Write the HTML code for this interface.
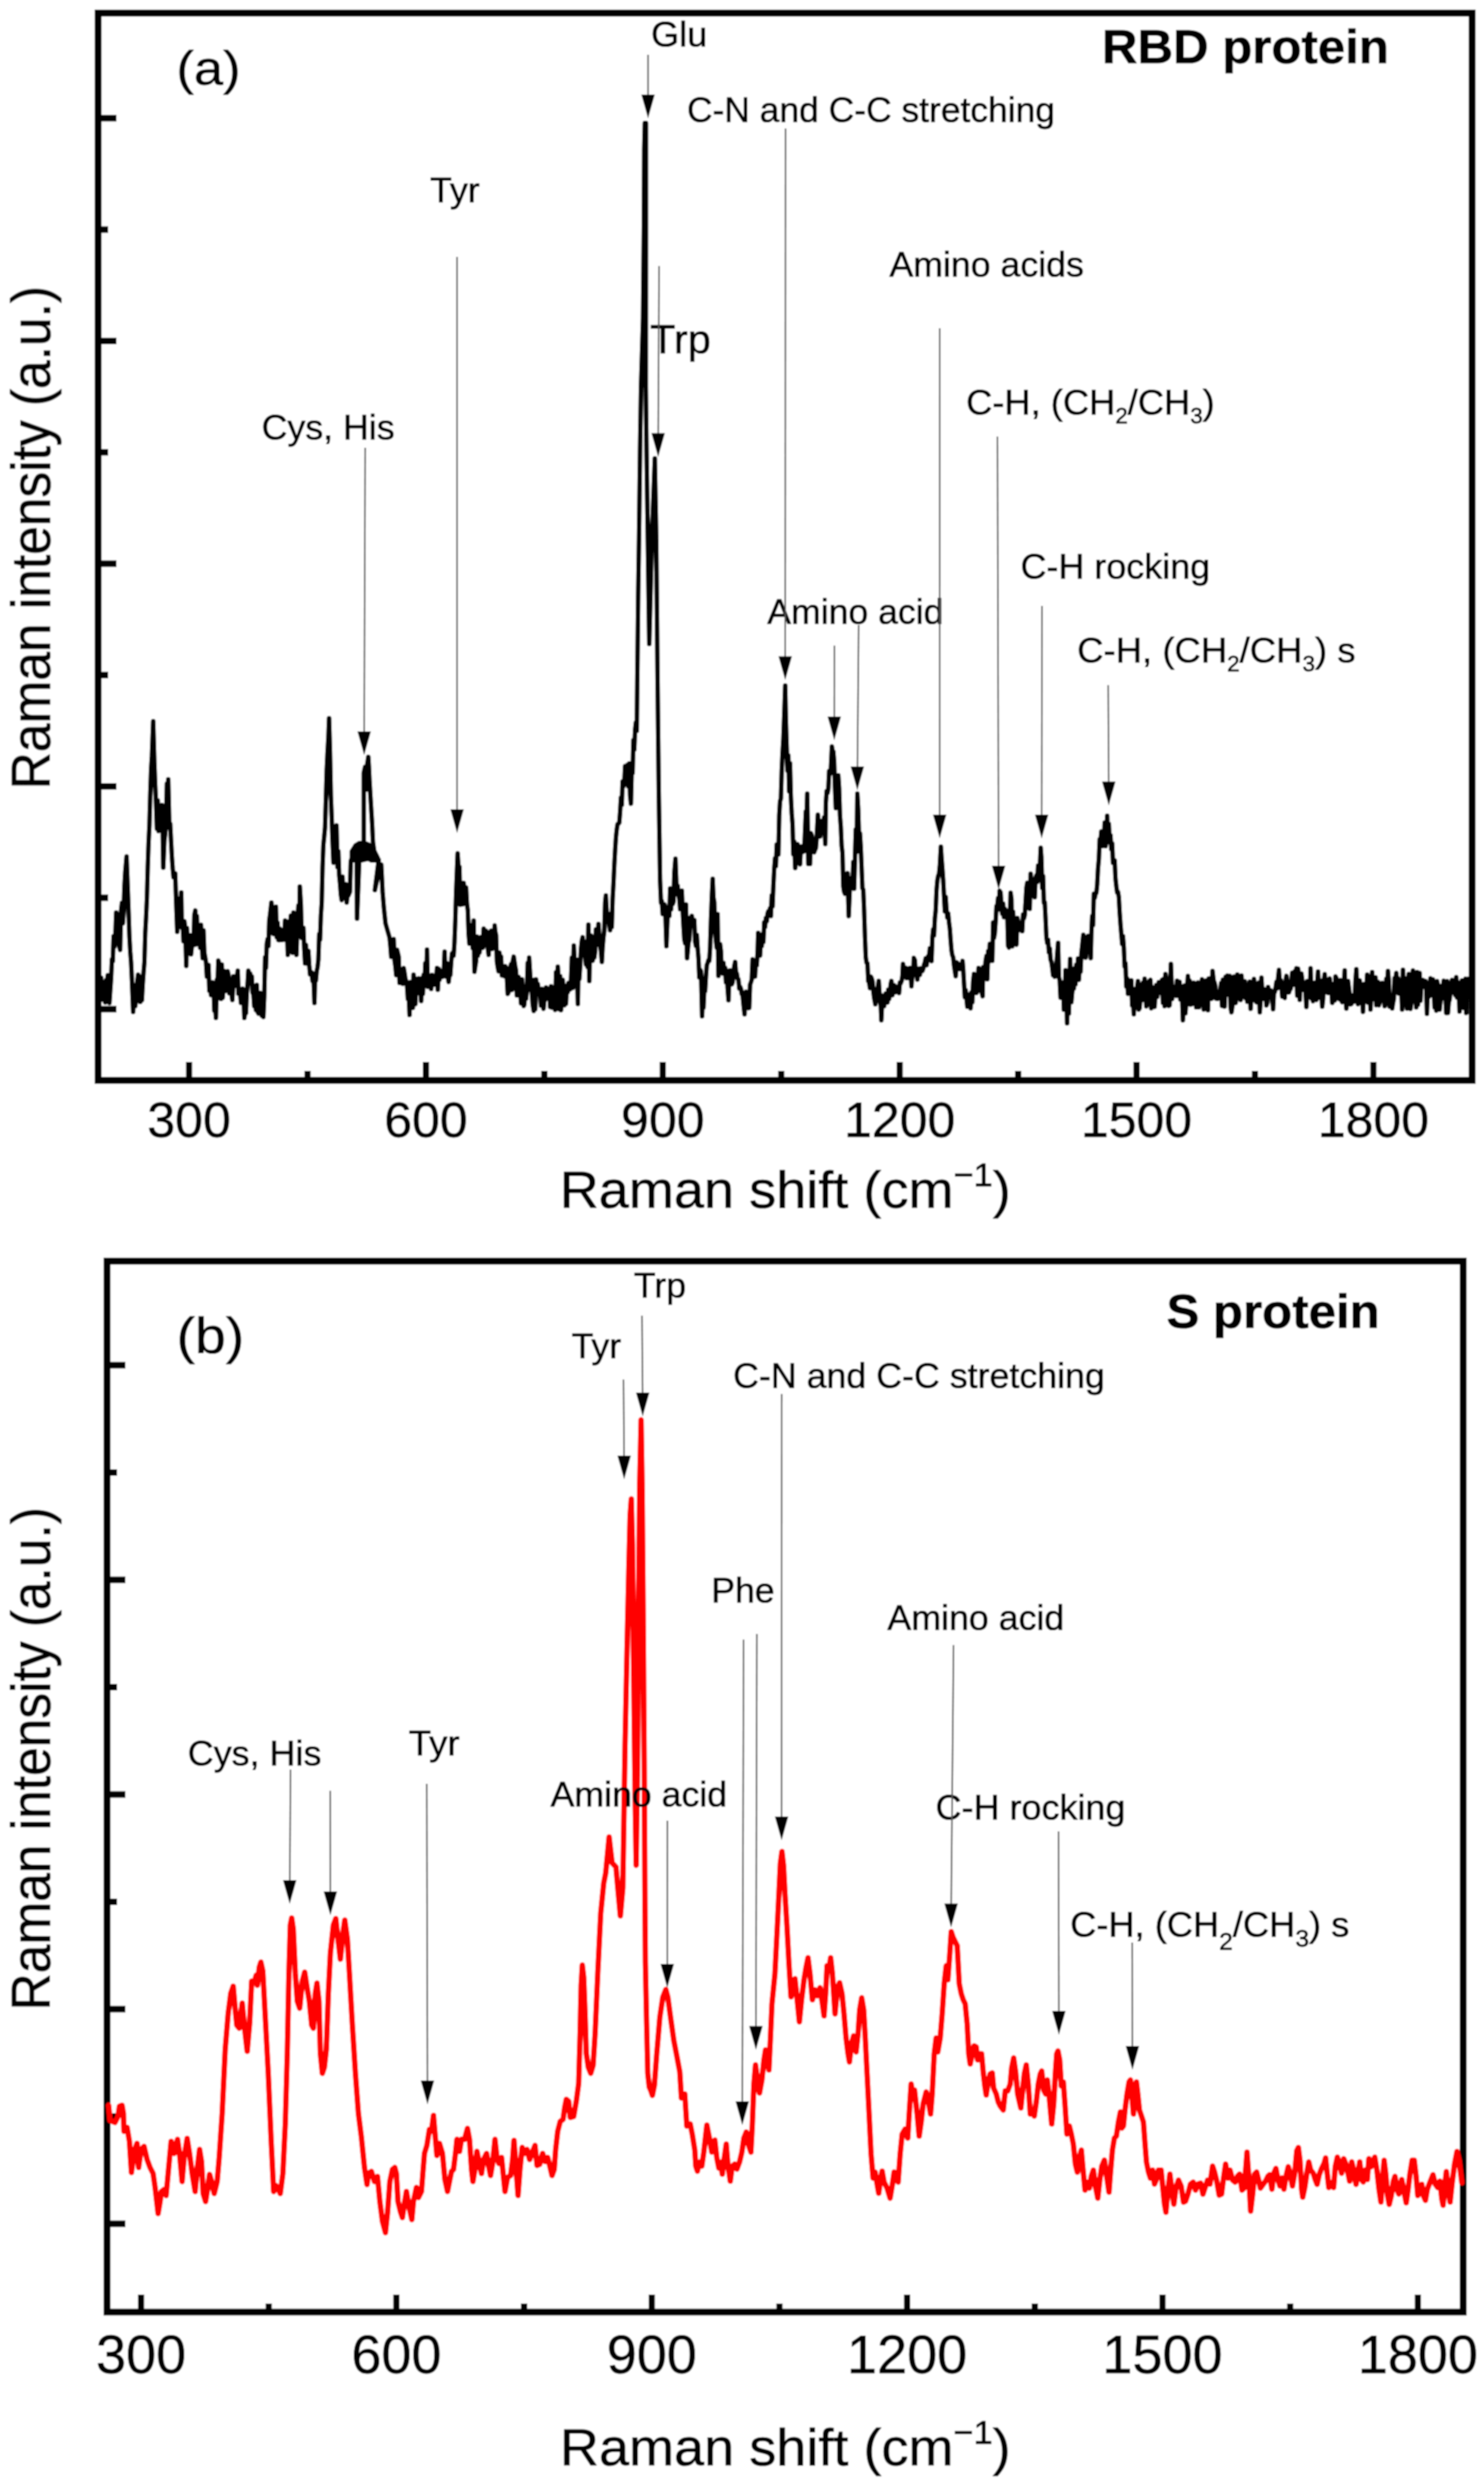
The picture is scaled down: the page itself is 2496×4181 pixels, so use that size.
<!DOCTYPE html>
<html><head><meta charset="utf-8"><title>Raman spectra</title>
<style>html,body{margin:0;padding:0;background:#fff}svg{display:block}text{stroke:#000;stroke-width:1.1px;stroke-linejoin:round}</style></head>
<body>
<svg width="2496" height="4181" viewBox="0 0 2496 4181" font-family='"Liberation Sans", Arial, Helvetica, sans-serif' fill="#000">
<rect width="2496" height="4181" fill="#fff"/>
<defs><filter id="sa" x="0" y="0" width="2496" height="2090" filterUnits="userSpaceOnUse"><feGaussianBlur stdDeviation="1.05"/></filter><filter id="sb" x="0" y="2090" width="2496" height="2091" filterUnits="userSpaceOnUse"><feGaussianBlur stdDeviation="1.05"/></filter></defs>
<g filter="url(#sa)"><rect x="0" y="0" width="2496" height="2090" fill="#fff"/>
<path d="M170.1 1644.4 L171.5 1681.2 L172.9 1652.2 L174.3 1651.8 L175.7 1663.4 L177.1 1685.8 L178.5 1648.4 L179.9 1651.2 L181.3 1640.2 L182.7 1664.6 L184.1 1686.7 L185.5 1665.7 L186.9 1645.3 L188.3 1613.6 L189.7 1616.9 L191.1 1574.6 L192.5 1592.2 L193.9 1578.0 L195.4 1534.7 L196.7 1540.6 L198.1 1575.6 L199.5 1547.7 L200.9 1592.6 L202.1 1597.5 L203.7 1531.0 L205.1 1518.4 L206.5 1552.8 L207.9 1532.0 L209.3 1489.6 L210.7 1465.8 L212.9 1440.4 L214.9 1494.5 L216.3 1533.4 L217.7 1575.1 L219.1 1600.8 L220.5 1618.7 L221.9 1649.3 L224.0 1701.9 L226.1 1657.8 L227.5 1691.9 L228.9 1670.6 L230.3 1655.2 L232.4 1639.2 L234.5 1643.4 L235.9 1685.0 L237.3 1650.9 L238.7 1682.1 L240.1 1655.4 L241.5 1635.1 L242.9 1618.5 L244.3 1569.0 L245.7 1542.9 L247.1 1510.9 L248.5 1458.1 L249.9 1417.2 L251.3 1388.3 L252.7 1336.0 L254.1 1293.6 L255.5 1271.5 L257.7 1213.0 L259.7 1283.2 L261.1 1320.7 L262.5 1350.8 L263.9 1393.5 L265.3 1346.2 L266.7 1397.6 L268.1 1367.9 L269.5 1391.5 L270.9 1385.6 L272.3 1354.0 L273.7 1400.5 L274.6 1459.3 L276.5 1413.4 L277.9 1402.1 L279.3 1381.1 L280.7 1318.0 L282.1 1344.7 L283.0 1310.7 L284.9 1391.8 L286.3 1385.5 L287.7 1413.5 L289.1 1440.6 L290.5 1460.6 L291.9 1475.3 L293.3 1472.9 L294.7 1468.7 L296.1 1512.6 L298.1 1567.2 L300.3 1516.2 L301.7 1511.4 L303.1 1546.8 L304.9 1501.0 L305.9 1560.3 L307.3 1551.3 L308.7 1583.0 L310.1 1549.6 L311.5 1561.3 L313.3 1624.4 L314.3 1560.7 L315.7 1589.0 L317.1 1595.7 L318.5 1586.2 L319.9 1572.9 L321.3 1605.0 L322.7 1591.8 L324.1 1583.5 L325.5 1589.7 L326.9 1538.3 L328.5 1531.4 L329.7 1588.5 L331.1 1540.8 L332.5 1581.5 L333.9 1585.7 L335.3 1567.3 L336.7 1594.1 L338.1 1555.5 L339.5 1586.1 L340.9 1611.6 L342.3 1564.8 L343.7 1602.0 L345.1 1609.8 L346.5 1618.3 L347.9 1642.4 L349.3 1641.9 L350.7 1622.9 L352.1 1666.2 L353.5 1657.3 L354.9 1673.5 L356.3 1660.2 L357.7 1652.2 L359.1 1657.6 L360.5 1699.7 L361.9 1692.3 L363.2 1712.0 L364.7 1647.8 L366.1 1651.6 L367.2 1615.6 L368.9 1621.5 L370.3 1652.1 L371.7 1680.1 L373.1 1622.3 L374.5 1678.0 L375.9 1657.6 L377.3 1633.2 L378.7 1666.9 L380.1 1634.0 L381.5 1651.7 L382.9 1633.5 L384.3 1639.5 L385.7 1670.5 L387.1 1659.3 L388.5 1662.2 L389.9 1674.7 L390.8 1681.7 L392.7 1642.0 L394.1 1658.8 L395.5 1651.6 L396.9 1653.0 L398.3 1645.7 L399.9 1632.4 L401.1 1671.1 L402.5 1669.2 L403.9 1670.4 L405.3 1686.6 L406.7 1680.4 L408.1 1662.8 L409.5 1671.0 L411.0 1712.0 L412.3 1702.1 L413.7 1704.0 L415.1 1669.8 L416.5 1653.4 L417.7 1632.4 L419.3 1640.1 L420.7 1637.1 L422.1 1648.3 L423.5 1642.1 L424.9 1669.7 L426.3 1672.1 L427.7 1692.3 L429.1 1681.0 L430.5 1698.6 L431.9 1656.4 L433.3 1702.0 L434.7 1704.5 L436.1 1685.6 L437.5 1670.1 L438.9 1696.9 L440.3 1707.9 L441.7 1680.1 L443.0 1710.4 L444.5 1675.9 L445.9 1609.9 L447.3 1627.8 L448.7 1587.2 L450.1 1579.4 L451.5 1591.2 L452.9 1547.5 L454.3 1537.5 L456.5 1517.9 L458.5 1551.2 L459.9 1570.7 L461.3 1570.7 L462.7 1542.4 L464.1 1525.0 L465.5 1576.2 L466.9 1551.9 L468.3 1581.0 L469.7 1581.2 L471.1 1562.2 L472.5 1568.5 L473.9 1581.0 L475.3 1573.5 L476.7 1572.6 L478.1 1580.4 L479.5 1548.3 L480.9 1569.8 L482.3 1550.0 L484.1 1605.9 L485.1 1580.7 L486.5 1552.0 L487.9 1555.7 L489.3 1540.0 L490.7 1543.2 L492.1 1602.3 L493.6 1534.7 L494.9 1544.9 L496.3 1538.2 L497.7 1563.2 L498.6 1605.9 L500.5 1545.0 L501.9 1523.1 L503.3 1565.7 L504.3 1490.9 L506.1 1521.3 L507.5 1577.5 L508.9 1577.7 L510.3 1560.4 L511.7 1595.6 L513.1 1620.2 L514.5 1589.3 L515.9 1620.4 L517.3 1611.5 L518.7 1599.3 L520.1 1622.8 L521.5 1638.7 L522.9 1637.0 L524.3 1635.6 L525.7 1649.9 L527.1 1637.5 L528.9 1686.8 L529.9 1646.3 L531.3 1649.3 L532.7 1633.5 L534.1 1626.8 L535.5 1614.1 L536.9 1570.9 L538.3 1580.3 L539.7 1539.7 L541.1 1519.0 L542.5 1458.5 L543.9 1421.2 L545.3 1407.0 L546.7 1391.7 L548.1 1344.0 L549.5 1294.3 L550.9 1265.3 L552.3 1240.8 L553.5 1207.9 L555.1 1265.0 L556.5 1337.6 L557.9 1373.7 L559.3 1414.4 L560.9 1450.9 L562.1 1390.9 L563.5 1396.9 L564.9 1397.1 L566.0 1388.2 L567.7 1458.5 L569.1 1431.7 L570.5 1472.0 L571.9 1485.8 L573.3 1504.7 L574.7 1513.7 L576.1 1474.6 L577.5 1509.4 L578.9 1488.5 L580.3 1506.4 L581.7 1487.3 L583.1 1517.9 L584.5 1503.4 L585.9 1506.2 L588.5 1500.0 L590.0 1448.0 L595.0 1436.0 L600.0 1434.0 L600.5 1545.0 L603.0 1480.0 L604.5 1438.0 L609.0 1432.0 L611.8 1415.0 L611.8 1300.0 L614.0 1290.0 L616.0 1328.0 L617.5 1286.0 L619.5 1273.0 L620.5 1290.0 L621.5 1312.0 L623.0 1338.0 L625.9 1385.0 L627.3 1416.0 L630.0 1436.0 L637.0 1446.0 L630.5 1497.0 L638.5 1460.0 L641.3 1454.0 L643.5 1500.0 L645.5 1525.0 L648.4 1553.0 L655.2 1576.8 L656.6 1590.8 L658.0 1609.2 L659.4 1604.4 L660.8 1600.8 L662.2 1579.5 L663.6 1615.5 L665.0 1625.1 L666.4 1640.0 L667.8 1597.5 L669.2 1603.2 L670.6 1609.2 L672.0 1652.9 L673.4 1645.6 L674.8 1642.9 L676.2 1654.2 L677.6 1654.5 L679.0 1628.2 L680.4 1636.1 L681.8 1645.6 L683.2 1650.4 L684.6 1657.8 L686.0 1680.1 L687.4 1670.5 L688.9 1707.0 L690.2 1651.8 L691.6 1669.6 L693.0 1681.6 L694.4 1695.0 L695.6 1639.2 L697.2 1665.3 L698.6 1688.7 L700.0 1646.2 L701.4 1654.9 L702.8 1670.3 L704.2 1645.5 L705.6 1657.5 L707.0 1662.1 L708.4 1683.5 L709.8 1645.0 L711.2 1671.7 L712.6 1639.6 L714.0 1654.7 L715.4 1619.9 L716.8 1657.4 L718.2 1597.1 L719.6 1659.6 L721.0 1651.1 L722.4 1649.2 L723.8 1645.6 L725.2 1663.2 L726.6 1639.7 L728.0 1656.7 L729.4 1651.3 L730.8 1644.2 L732.2 1655.8 L733.6 1647.1 L735.0 1627.9 L736.4 1664.6 L737.8 1629.4 L739.2 1647.9 L740.6 1632.5 L742.0 1634.9 L743.4 1635.7 L744.8 1642.7 L746.2 1640.8 L747.8 1600.4 L749.0 1637.9 L750.4 1642.3 L751.8 1619.9 L753.2 1642.4 L754.6 1651.4 L756.0 1638.5 L757.4 1639.9 L758.8 1619.4 L760.2 1603.7 L761.6 1602.1 L763.0 1607.3 L764.4 1585.3 L765.8 1547.6 L767.2 1498.3 L768.6 1463.2 L769.7 1435.3 L771.4 1461.5 L772.8 1457.6 L774.2 1521.6 L775.6 1518.0 L777.0 1502.5 L778.4 1520.8 L779.8 1484.9 L781.2 1496.6 L782.6 1493.5 L784.0 1492.6 L785.4 1520.4 L786.8 1530.7 L788.2 1571.1 L789.6 1587.1 L791.0 1555.8 L792.4 1559.2 L793.8 1578.8 L795.2 1594.6 L796.7 1548.2 L798.0 1634.3 L799.4 1625.1 L800.8 1616.5 L802.2 1575.2 L803.6 1607.4 L805.0 1596.1 L806.4 1602.3 L807.8 1589.8 L809.2 1575.9 L810.6 1592.8 L812.0 1593.9 L813.5 1561.7 L814.8 1573.0 L816.2 1567.9 L817.6 1565.4 L819.0 1585.9 L820.4 1593.8 L821.9 1605.9 L823.2 1573.5 L824.6 1567.4 L826.0 1565.4 L827.4 1596.1 L828.8 1569.9 L830.2 1593.4 L832.0 1556.6 L833.0 1566.6 L834.4 1572.6 L835.8 1617.3 L837.2 1626.4 L838.6 1633.5 L840.0 1602.2 L841.4 1612.9 L842.8 1608.9 L844.2 1640.5 L845.6 1631.0 L847.0 1631.6 L848.4 1641.8 L849.8 1624.9 L851.2 1627.9 L852.6 1645.9 L853.9 1671.6 L855.4 1668.7 L856.8 1665.5 L858.2 1626.8 L859.6 1621.7 L861.0 1664.8 L862.4 1617.1 L864.1 1608.9 L865.2 1616.7 L866.6 1625.5 L868.0 1632.3 L869.4 1674.0 L870.8 1647.2 L872.2 1643.1 L873.6 1666.3 L875.0 1668.7 L876.4 1687.4 L877.8 1647.0 L879.2 1671.7 L880.9 1691.8 L882.0 1689.4 L883.4 1659.9 L884.8 1679.6 L886.2 1664.9 L887.6 1619.6 L889.0 1631.5 L890.0 1610.5 L891.8 1640.2 L893.2 1664.8 L894.6 1668.5 L896.0 1689.7 L897.7 1700.2 L898.8 1647.8 L900.2 1697.3 L901.6 1647.2 L903.0 1666.6 L904.4 1654.6 L905.8 1663.7 L907.2 1671.6 L908.6 1670.7 L910.0 1691.2 L911.4 1663.3 L912.8 1690.9 L914.2 1696.5 L915.6 1680.4 L917.0 1681.6 L918.4 1660.8 L919.8 1672.9 L921.2 1663.4 L922.6 1665.5 L924.0 1662.8 L925.4 1693.5 L926.8 1658.8 L928.2 1694.6 L929.6 1667.1 L931.0 1670.1 L932.4 1669.5 L933.8 1698.5 L935.2 1635.2 L936.6 1647.6 L938.2 1625.7 L939.4 1646.2 L940.8 1697.3 L942.2 1641.8 L943.6 1698.9 L945.0 1671.8 L946.4 1648.0 L947.8 1673.7 L949.2 1690.6 L950.6 1683.7 L952.0 1688.1 L953.4 1657.5 L954.8 1668.6 L956.2 1653.2 L957.6 1662.4 L959.0 1663.8 L960.4 1648.3 L961.8 1610.7 L963.2 1661.6 L965.1 1590.3 L967.4 1638.5 L968.8 1653.9 L970.2 1614.1 L971.9 1688.5 L973.0 1622.9 L974.4 1646.5 L975.8 1625.2 L977.2 1596.0 L978.6 1582.4 L980.0 1576.3 L981.4 1598.0 L982.8 1583.5 L984.2 1603.6 L985.6 1621.9 L987.0 1621.2 L988.4 1626.4 L989.7 1554.9 L991.2 1650.0 L992.6 1580.4 L994.0 1573.4 L995.4 1614.7 L996.8 1615.5 L998.2 1610.0 L999.6 1610.2 L1001.0 1599.8 L1002.4 1563.0 L1003.8 1589.0 L1005.2 1588.6 L1006.6 1554.1 L1008.0 1576.0 L1009.4 1589.0 L1010.8 1599.4 L1012.3 1617.7 L1013.6 1593.1 L1015.0 1576.8 L1016.4 1565.9 L1017.8 1517.7 L1019.0 1506.1 L1020.6 1535.8 L1022.0 1548.3 L1023.4 1546.2 L1024.8 1553.4 L1026.2 1564.5 L1027.6 1536.5 L1029.0 1559.2 L1030.4 1511.8 L1031.8 1486.7 L1033.2 1455.8 L1034.6 1429.9 L1036.0 1408.0 L1037.4 1394.7 L1038.8 1386.0 L1040.2 1385.4 L1041.6 1383.6 L1043.0 1365.6 L1044.4 1341.6 L1045.8 1353.6 L1047.2 1314.2 L1048.6 1322.5 L1050.0 1316.6 L1051.4 1288.5 L1052.8 1317.6 L1054.2 1318.8 L1055.6 1286.3 L1057.0 1322.9 L1058.4 1283.9 L1059.8 1338.1 L1061.2 1351.5 L1062.6 1294.1 L1064.0 1300.2 L1065.4 1244.7 L1066.8 1260.9 L1068.2 1227.1 L1069.6 1215.0 L1071.0 1229.2 L1071.8 1150.0 L1073.4 1000.0 L1074.8 904.0 L1076.5 759.0 L1078.1 651.0 L1081.6 536.0 L1083.0 380.0 L1083.6 250.0 L1084.6 207.0 L1086.4 207.0 L1086.4 400.0 L1086.2 650.0 L1087.5 760.0 L1089.5 904.0 L1092.0 1083.0 L1096.5 904.0 L1101.4 771.0 L1103.8 904.0 L1106.0 1145.0 L1108.0 1330.0 L1110.2 1480.0 L1111.8 1518.2 L1113.2 1515.4 L1114.6 1537.3 L1116.0 1536.3 L1117.4 1520.9 L1118.8 1525.5 L1120.9 1591.3 L1123.0 1538.7 L1124.4 1530.2 L1125.8 1540.4 L1127.2 1494.3 L1128.6 1529.5 L1130.0 1499.4 L1131.4 1520.5 L1132.8 1516.5 L1134.2 1467.1 L1136.1 1444.3 L1137.0 1468.7 L1138.4 1503.6 L1139.8 1489.7 L1141.2 1506.1 L1142.6 1511.2 L1144.0 1529.1 L1145.4 1514.0 L1146.8 1497.9 L1148.2 1530.1 L1149.6 1557.0 L1151.0 1580.2 L1152.4 1586.5 L1153.8 1521.2 L1155.6 1611.5 L1156.6 1601.2 L1158.0 1585.5 L1159.4 1581.1 L1160.8 1543.4 L1162.2 1550.2 L1163.6 1540.5 L1165.0 1555.8 L1166.4 1551.4 L1167.8 1547.4 L1169.2 1583.8 L1170.6 1590.6 L1172.0 1572.4 L1173.4 1594.7 L1174.8 1611.1 L1176.2 1643.9 L1177.6 1630.9 L1179.0 1633.7 L1180.9 1709.2 L1181.8 1684.6 L1183.2 1694.7 L1184.6 1664.6 L1186.0 1667.1 L1187.4 1642.2 L1188.8 1623.2 L1190.2 1619.6 L1191.6 1614.8 L1193.0 1616.0 L1194.4 1593.3 L1195.8 1545.0 L1197.2 1509.0 L1198.7 1478.0 L1200.0 1509.5 L1201.4 1517.1 L1202.8 1566.1 L1204.2 1582.0 L1205.6 1593.9 L1207.0 1537.4 L1208.4 1641.3 L1209.8 1612.2 L1211.2 1587.9 L1212.6 1599.4 L1214.0 1635.1 L1215.4 1637.1 L1216.8 1619.5 L1218.2 1633.2 L1219.6 1627.6 L1221.0 1652.0 L1222.4 1632.6 L1223.8 1661.9 L1225.3 1682.3 L1226.6 1636.8 L1228.0 1632.1 L1229.4 1632.8 L1230.8 1655.4 L1232.2 1652.0 L1233.6 1635.9 L1235.0 1624.7 L1236.5 1617.8 L1237.8 1634.9 L1239.2 1637.1 L1240.6 1645.9 L1242.0 1646.8 L1243.4 1662.5 L1244.8 1659.7 L1246.2 1662.9 L1247.6 1671.8 L1249.0 1672.2 L1250.4 1688.3 L1252.3 1705.8 L1253.2 1669.7 L1254.6 1668.0 L1256.0 1694.7 L1257.4 1675.7 L1258.8 1695.5 L1260.2 1695.0 L1261.6 1655.9 L1263.0 1652.1 L1264.4 1647.4 L1265.8 1613.4 L1267.2 1622.8 L1268.6 1634.5 L1270.0 1642.4 L1271.4 1616.1 L1272.8 1623.4 L1274.2 1602.1 L1275.2 1569.0 L1277.0 1606.3 L1278.4 1607.1 L1279.8 1578.9 L1281.2 1591.3 L1282.6 1571.1 L1284.0 1584.1 L1285.4 1551.2 L1286.8 1559.1 L1288.2 1543.9 L1289.6 1549.5 L1291.0 1536.3 L1292.4 1532.5 L1293.8 1535.0 L1295.2 1527.6 L1296.6 1540.5 L1298.0 1506.0 L1299.4 1524.4 L1300.8 1489.1 L1302.2 1461.6 L1303.6 1443.4 L1305.0 1456.7 L1306.4 1420.3 L1307.8 1420.1 L1309.2 1437.2 L1310.6 1371.2 L1312.0 1347.7 L1313.4 1343.1 L1314.8 1295.9 L1316.2 1265.7 L1317.6 1242.8 L1319.0 1204.0 L1320.7 1152.9 L1321.8 1208.5 L1323.2 1255.4 L1324.6 1296.1 L1326.0 1270.7 L1327.4 1330.9 L1328.8 1283.7 L1330.2 1339.8 L1331.6 1367.8 L1333.0 1386.0 L1334.4 1436.7 L1335.8 1415.4 L1337.5 1459.9 L1338.6 1439.4 L1340.0 1434.7 L1341.4 1419.8 L1342.8 1423.2 L1344.2 1449.1 L1345.6 1453.7 L1347.0 1425.9 L1348.4 1423.7 L1349.8 1433.1 L1351.2 1426.2 L1352.6 1431.7 L1354.0 1398.1 L1355.4 1364.7 L1356.8 1369.0 L1357.7 1334.8 L1359.6 1453.0 L1361.0 1434.2 L1362.4 1453.1 L1363.8 1401.3 L1365.2 1404.8 L1366.6 1416.2 L1368.0 1432.4 L1369.4 1433.2 L1370.8 1429.3 L1372.2 1426.3 L1373.6 1409.8 L1375.6 1370.2 L1377.8 1397.5 L1379.2 1406.9 L1380.6 1381.9 L1382.0 1380.7 L1383.4 1398.3 L1384.8 1385.1 L1386.2 1374.8 L1388.1 1419.5 L1389.0 1350.8 L1390.4 1330.5 L1391.8 1333.9 L1393.2 1326.8 L1394.6 1296.8 L1396.0 1301.7 L1397.4 1293.7 L1399.2 1255.6 L1400.2 1261.8 L1401.6 1263.7 L1403.0 1280.3 L1404.4 1323.7 L1405.8 1359.2 L1407.2 1320.0 L1408.6 1333.8 L1410.0 1304.1 L1411.4 1325.6 L1412.8 1371.8 L1414.2 1390.1 L1415.6 1422.6 L1417.0 1434.3 L1418.4 1490.7 L1419.8 1499.8 L1421.2 1503.1 L1422.6 1494.9 L1424.0 1473.9 L1425.4 1468.7 L1427.5 1540.7 L1429.6 1489.9 L1431.0 1480.0 L1432.4 1476.3 L1433.8 1491.4 L1435.2 1449.8 L1436.6 1494.6 L1438.0 1443.1 L1439.4 1395.1 L1440.8 1432.7 L1442.0 1334.8 L1443.6 1362.8 L1445.0 1413.6 L1446.4 1401.5 L1447.8 1424.2 L1449.2 1459.2 L1450.6 1494.1 L1452.0 1496.2 L1453.4 1530.6 L1454.8 1575.3 L1456.2 1610.4 L1457.6 1619.3 L1459.0 1620.2 L1460.4 1650.3 L1461.8 1651.6 L1463.2 1661.7 L1464.6 1642.6 L1466.0 1645.0 L1467.4 1650.0 L1468.8 1666.5 L1470.2 1677.9 L1472.3 1689.0 L1474.4 1664.1 L1475.8 1666.0 L1478.0 1649.8 L1480.0 1681.7 L1481.4 1691.5 L1482.4 1715.9 L1484.2 1674.5 L1485.6 1689.6 L1487.0 1692.3 L1488.4 1683.3 L1489.8 1671.0 L1491.2 1674.5 L1492.6 1686.0 L1494.0 1664.4 L1495.4 1680.1 L1496.8 1668.0 L1498.2 1654.5 L1499.3 1649.8 L1501.0 1673.7 L1502.4 1659.1 L1503.8 1656.9 L1505.2 1666.7 L1506.6 1668.6 L1508.0 1659.5 L1509.4 1666.1 L1510.8 1664.2 L1512.2 1670.1 L1513.6 1652.6 L1515.0 1653.4 L1516.4 1649.8 L1517.8 1641.6 L1518.8 1621.2 L1520.6 1632.7 L1522.0 1635.4 L1523.4 1627.7 L1524.8 1644.9 L1526.2 1643.8 L1527.6 1630.7 L1529.0 1645.0 L1530.4 1628.0 L1531.8 1635.0 L1533.0 1658.7 L1534.6 1634.2 L1536.0 1638.7 L1537.0 1611.1 L1538.8 1615.1 L1540.2 1637.2 L1541.6 1639.2 L1543.0 1647.4 L1544.4 1629.3 L1545.8 1639.3 L1547.2 1639.5 L1548.6 1628.6 L1550.0 1631.8 L1551.4 1633.0 L1552.8 1629.4 L1554.2 1622.6 L1555.6 1618.4 L1557.0 1611.9 L1558.4 1623.4 L1559.8 1611.5 L1561.2 1607.8 L1562.6 1609.7 L1564.0 1594.7 L1565.4 1607.2 L1566.8 1616.4 L1568.2 1577.0 L1569.6 1562.9 L1571.0 1573.4 L1572.4 1544.7 L1573.8 1531.2 L1575.2 1496.8 L1576.6 1480.7 L1578.0 1473.0 L1579.4 1469.9 L1580.8 1454.8 L1582.5 1424.1 L1583.6 1441.8 L1585.0 1459.8 L1586.4 1479.3 L1587.8 1506.3 L1589.2 1532.8 L1590.6 1508.6 L1592.0 1529.4 L1593.4 1543.2 L1594.8 1536.2 L1596.2 1551.4 L1597.6 1561.7 L1599.0 1582.1 L1600.4 1598.8 L1601.8 1606.9 L1603.2 1609.7 L1604.6 1623.3 L1606.0 1632.9 L1607.4 1641.7 L1608.8 1618.4 L1610.2 1619.6 L1611.6 1626.8 L1613.0 1621.8 L1614.4 1629.7 L1615.8 1625.6 L1617.2 1627.0 L1619.0 1616.1 L1620.0 1628.5 L1621.4 1652.9 L1622.8 1676.9 L1624.2 1665.2 L1625.6 1679.3 L1627.0 1693.0 L1628.4 1680.0 L1629.8 1685.4 L1631.2 1672.3 L1632.4 1695.7 L1634.0 1668.9 L1635.4 1685.5 L1636.8 1651.1 L1638.2 1637.9 L1639.6 1644.6 L1641.0 1640.5 L1642.4 1670.0 L1643.8 1666.3 L1645.9 1627.9 L1648.0 1655.5 L1649.4 1665.9 L1650.8 1666.9 L1652.7 1675.5 L1653.6 1626.4 L1655.0 1644.6 L1656.4 1634.7 L1657.8 1616.0 L1659.2 1607.9 L1660.6 1647.0 L1662.0 1599.7 L1663.4 1617.0 L1664.8 1587.6 L1666.2 1598.8 L1667.6 1597.8 L1669.0 1615.8 L1670.4 1551.4 L1671.8 1577.5 L1673.2 1569.8 L1674.6 1550.0 L1676.0 1523.8 L1677.4 1523.1 L1678.8 1510.3 L1680.2 1529.4 L1681.3 1498.2 L1683.0 1501.1 L1684.4 1524.2 L1685.8 1536.7 L1687.2 1519.7 L1688.6 1542.5 L1690.0 1528.6 L1691.4 1536.5 L1692.8 1531.1 L1694.2 1535.2 L1695.6 1590.7 L1697.0 1593.6 L1698.4 1551.7 L1699.8 1501.6 L1701.2 1511.8 L1702.6 1591.5 L1704.0 1533.6 L1705.4 1565.1 L1706.8 1575.9 L1708.2 1585.1 L1709.6 1588.7 L1711.0 1544.1 L1712.4 1551.3 L1713.8 1553.7 L1715.2 1564.3 L1716.6 1555.3 L1718.0 1551.8 L1719.4 1566.1 L1720.8 1538.0 L1722.2 1544.6 L1723.6 1539.1 L1725.0 1517.2 L1726.4 1492.7 L1727.8 1484.8 L1729.2 1504.1 L1730.6 1490.9 L1732.0 1528.6 L1733.5 1469.6 L1734.8 1504.9 L1736.2 1505.8 L1737.6 1497.5 L1739.0 1502.3 L1740.4 1509.0 L1741.8 1476.2 L1743.2 1472.2 L1744.6 1483.3 L1746.0 1455.7 L1747.4 1474.0 L1748.8 1462.9 L1750.4 1425.8 L1751.6 1441.9 L1753.0 1493.5 L1754.4 1473.5 L1755.8 1518.0 L1757.2 1517.3 L1758.6 1544.9 L1760.0 1576.8 L1761.4 1586.0 L1762.8 1580.3 L1764.2 1601.4 L1765.6 1595.1 L1767.0 1613.9 L1768.4 1617.4 L1769.8 1627.1 L1771.2 1640.1 L1772.6 1629.0 L1774.0 1642.6 L1775.4 1628.9 L1776.8 1624.7 L1778.2 1604.0 L1779.7 1585.8 L1781.0 1643.5 L1782.4 1648.8 L1783.8 1677.9 L1785.2 1668.2 L1786.6 1659.0 L1788.0 1652.6 L1789.4 1698.1 L1790.8 1688.1 L1792.2 1631.8 L1793.6 1665.2 L1794.8 1721.0 L1796.4 1662.0 L1797.8 1704.6 L1799.9 1612.8 L1802.0 1685.3 L1803.4 1669.0 L1804.8 1660.3 L1806.2 1662.6 L1807.6 1628.4 L1809.0 1655.4 L1810.4 1622.4 L1811.8 1640.8 L1813.2 1612.1 L1814.6 1647.8 L1816.0 1626.7 L1817.4 1634.4 L1818.8 1603.1 L1820.2 1591.0 L1822.1 1572.3 L1823.0 1598.2 L1824.4 1578.3 L1825.8 1610.6 L1827.2 1575.8 L1828.6 1576.8 L1830.0 1574.1 L1831.4 1589.1 L1832.8 1584.8 L1834.6 1611.5 L1835.6 1571.0 L1837.0 1540.8 L1838.4 1555.8 L1839.8 1503.2 L1841.2 1510.3 L1842.6 1504.0 L1844.0 1501.6 L1845.4 1487.6 L1846.8 1460.7 L1848.2 1445.1 L1849.6 1411.6 L1851.0 1415.1 L1852.4 1398.5 L1853.8 1422.9 L1855.2 1398.9 L1856.6 1420.5 L1858.0 1383.6 L1859.4 1423.1 L1860.8 1406.4 L1862.2 1371.9 L1863.6 1416.5 L1865.0 1385.7 L1866.4 1414.9 L1867.8 1404.8 L1869.2 1428.2 L1870.6 1418.4 L1872.0 1451.2 L1873.4 1446.5 L1874.8 1446.9 L1876.2 1477.6 L1877.6 1490.5 L1879.0 1500.9 L1880.4 1500.1 L1881.8 1508.4 L1883.2 1534.1 L1884.6 1554.2 L1886.0 1570.8 L1887.4 1587.6 L1888.8 1574.6 L1890.2 1592.9 L1891.6 1625.6 L1893.0 1620.2 L1894.4 1659.2 L1895.8 1645.7 L1897.2 1671.4 L1898.6 1655.1 L1900.0 1649.8 L1901.4 1660.9 L1902.8 1648.7 L1904.2 1690.9 L1905.6 1676.0 L1907.0 1705.8 L1908.4 1663.6 L1909.8 1677.6 L1911.2 1686.6 L1912.6 1661.5 L1914.0 1649.9 L1915.4 1697.8 L1916.8 1695.5 L1918.2 1677.1 L1919.6 1656.3 L1921.0 1682.0 L1922.4 1652.8 L1923.8 1660.0 L1925.2 1645.9 L1926.6 1661.1 L1928.0 1692.5 L1929.4 1687.8 L1930.8 1687.6 L1932.2 1674.9 L1933.6 1649.4 L1935.0 1648.0 L1936.4 1695.7 L1937.8 1660.3 L1939.2 1687.4 L1940.6 1682.1 L1942.0 1693.4 L1943.4 1668.4 L1944.8 1656.7 L1946.2 1676.6 L1947.6 1661.2 L1949.0 1652.0 L1950.4 1662.4 L1951.8 1669.6 L1953.2 1650.8 L1954.6 1647.9 L1956.0 1686.6 L1957.4 1646.3 L1958.8 1692.2 L1960.2 1638.3 L1961.6 1654.0 L1963.0 1679.2 L1964.4 1672.5 L1965.8 1691.7 L1967.2 1691.0 L1969.4 1621.2 L1971.4 1680.0 L1972.8 1659.1 L1974.2 1664.0 L1975.6 1664.4 L1977.0 1665.1 L1978.4 1674.7 L1979.8 1649.5 L1981.2 1674.4 L1982.6 1672.9 L1984.0 1651.4 L1985.4 1681.0 L1986.8 1658.9 L1988.2 1673.5 L1989.6 1715.9 L1991.0 1687.1 L1992.4 1657.5 L1993.8 1704.3 L1995.2 1686.0 L1996.6 1661.4 L1998.0 1641.4 L1999.4 1662.9 L2000.8 1649.2 L2002.2 1689.6 L2003.6 1689.0 L2005.0 1688.7 L2006.4 1670.0 L2007.8 1652.8 L2009.2 1657.1 L2010.6 1674.2 L2012.0 1694.1 L2013.4 1684.8 L2014.8 1652.6 L2016.2 1694.0 L2017.6 1679.5 L2019.0 1666.9 L2020.4 1659.7 L2021.8 1646.9 L2023.2 1653.8 L2024.6 1697.7 L2026.0 1673.4 L2027.4 1690.0 L2028.8 1649.1 L2030.2 1670.7 L2031.7 1699.1 L2033.0 1645.8 L2034.4 1656.9 L2035.8 1645.2 L2037.2 1679.8 L2038.6 1679.1 L2039.4 1633.0 L2041.4 1649.8 L2042.8 1652.8 L2044.2 1658.9 L2045.6 1679.6 L2047.0 1672.6 L2048.4 1679.9 L2049.8 1675.2 L2051.2 1667.8 L2052.6 1666.1 L2054.0 1653.2 L2055.4 1691.7 L2056.8 1647.8 L2058.2 1649.4 L2059.6 1692.8 L2061.5 1642.7 L2062.9 1673.2 L2064.3 1640.7 L2065.7 1664.7 L2067.1 1642.9 L2068.5 1641.4 L2069.9 1695.0 L2071.3 1702.5 L2072.7 1692.9 L2074.1 1659.8 L2075.5 1642.4 L2076.9 1668.1 L2078.3 1686.7 L2079.7 1669.8 L2081.1 1639.0 L2082.5 1662.6 L2083.9 1651.1 L2085.3 1669.9 L2086.7 1681.7 L2088.1 1640.8 L2089.5 1664.0 L2090.9 1672.8 L2092.3 1676.4 L2093.7 1650.4 L2095.1 1678.7 L2096.5 1665.8 L2097.9 1684.6 L2099.3 1663.4 L2100.7 1668.4 L2102.1 1651.0 L2103.5 1696.6 L2104.9 1658.6 L2106.3 1671.0 L2107.7 1669.6 L2109.1 1646.6 L2110.5 1658.2 L2111.9 1684.0 L2113.3 1685.4 L2114.7 1669.1 L2116.1 1680.1 L2117.5 1652.6 L2118.9 1702.4 L2120.3 1682.0 L2121.7 1644.2 L2123.1 1668.9 L2124.5 1679.7 L2125.9 1663.4 L2127.3 1672.5 L2128.7 1666.6 L2130.1 1690.9 L2131.5 1686.3 L2132.9 1660.0 L2134.3 1669.9 L2135.7 1675.4 L2137.1 1665.5 L2138.5 1677.6 L2139.9 1680.5 L2141.3 1697.3 L2142.7 1669.6 L2144.1 1668.6 L2145.5 1661.3 L2146.9 1651.6 L2148.3 1662.2 L2149.7 1645.1 L2151.1 1631.3 L2152.5 1652.0 L2153.9 1648.1 L2155.3 1659.1 L2156.7 1676.1 L2158.1 1669.6 L2159.5 1677.3 L2160.9 1678.3 L2162.3 1649.5 L2163.7 1641.4 L2165.1 1668.7 L2166.5 1666.0 L2167.9 1669.0 L2169.3 1664.3 L2170.7 1663.2 L2172.1 1649.0 L2173.5 1636.1 L2174.9 1656.5 L2176.3 1655.7 L2177.7 1633.6 L2179.1 1649.3 L2180.5 1628.5 L2181.9 1674.5 L2183.3 1629.3 L2184.7 1647.0 L2186.1 1681.6 L2187.5 1637.5 L2188.9 1637.5 L2190.3 1647.6 L2191.7 1655.3 L2193.1 1665.1 L2194.5 1660.5 L2195.9 1668.6 L2197.3 1693.5 L2198.7 1650.3 L2200.1 1658.2 L2201.5 1668.3 L2202.9 1675.8 L2204.3 1628.6 L2205.7 1679.0 L2207.1 1671.4 L2208.5 1683.8 L2209.9 1678.5 L2211.3 1652.7 L2212.7 1679.4 L2214.1 1681.6 L2215.5 1654.3 L2216.9 1634.0 L2218.3 1663.2 L2219.7 1678.0 L2221.1 1649.2 L2222.5 1666.0 L2223.9 1693.0 L2225.3 1680.9 L2226.7 1651.0 L2228.1 1638.4 L2229.5 1661.5 L2230.9 1666.6 L2232.3 1669.1 L2233.7 1670.0 L2235.1 1647.0 L2236.5 1645.8 L2237.9 1660.6 L2239.3 1654.2 L2240.7 1686.6 L2242.1 1667.1 L2243.5 1663.3 L2244.9 1682.6 L2246.3 1642.2 L2247.7 1645.1 L2249.1 1672.4 L2250.5 1661.3 L2251.9 1679.8 L2253.3 1680.7 L2254.7 1648.5 L2256.1 1682.7 L2257.5 1685.4 L2258.9 1658.7 L2260.3 1659.9 L2261.7 1632.0 L2263.1 1675.1 L2264.5 1696.3 L2265.9 1670.1 L2267.3 1650.1 L2268.7 1661.5 L2270.1 1672.4 L2271.5 1689.2 L2272.9 1688.5 L2274.3 1674.0 L2275.7 1681.1 L2277.1 1679.6 L2278.5 1684.3 L2279.9 1649.4 L2281.3 1629.9 L2282.7 1670.3 L2284.1 1688.8 L2285.5 1651.6 L2286.9 1648.9 L2288.3 1659.4 L2289.7 1683.3 L2291.1 1675.8 L2292.5 1701.7 L2293.9 1655.2 L2295.3 1660.9 L2296.7 1662.9 L2298.1 1663.7 L2299.5 1639.2 L2300.9 1686.2 L2302.3 1664.0 L2303.7 1660.1 L2305.1 1697.8 L2306.5 1655.2 L2307.9 1635.1 L2309.3 1680.6 L2310.7 1661.7 L2312.1 1677.8 L2313.5 1643.8 L2314.9 1690.4 L2316.3 1660.4 L2317.7 1651.5 L2319.1 1690.7 L2320.5 1685.4 L2321.9 1666.8 L2323.3 1679.3 L2324.7 1653.2 L2326.1 1680.5 L2327.5 1674.4 L2328.9 1692.2 L2330.3 1682.2 L2331.7 1646.3 L2333.1 1665.0 L2334.5 1633.0 L2335.9 1650.3 L2337.3 1692.8 L2338.7 1676.3 L2340.1 1677.4 L2341.5 1696.0 L2342.9 1687.3 L2344.3 1680.5 L2345.7 1644.9 L2347.1 1650.3 L2348.5 1636.6 L2349.9 1668.4 L2351.3 1645.3 L2352.7 1671.1 L2354.1 1671.1 L2355.5 1657.8 L2356.9 1663.0 L2358.3 1697.8 L2359.7 1631.0 L2361.1 1687.2 L2362.5 1661.2 L2363.9 1645.6 L2365.3 1672.1 L2366.7 1696.3 L2368.1 1669.9 L2369.5 1638.3 L2370.9 1676.3 L2372.3 1696.8 L2373.7 1686.8 L2375.1 1657.3 L2376.5 1632.3 L2377.9 1649.9 L2379.3 1654.8 L2380.7 1665.6 L2382.1 1694.2 L2383.5 1635.0 L2384.9 1689.8 L2386.3 1671.2 L2387.7 1636.5 L2389.1 1683.1 L2390.5 1657.2 L2391.9 1651.2 L2393.3 1648.1 L2394.7 1659.5 L2396.1 1653.4 L2397.5 1650.0 L2398.9 1664.2 L2400.0 1705.0 L2401.7 1658.6 L2403.1 1676.5 L2404.5 1667.0 L2405.9 1645.6 L2407.3 1662.1 L2408.7 1674.0 L2410.1 1647.2 L2411.5 1661.3 L2412.9 1694.3 L2414.3 1667.3 L2415.7 1699.7 L2417.1 1650.3 L2418.5 1657.2 L2419.9 1670.1 L2421.3 1698.0 L2422.7 1684.0 L2424.1 1658.2 L2425.5 1679.4 L2426.9 1662.1 L2428.3 1649.6 L2429.7 1678.4 L2431.1 1671.0 L2432.5 1703.7 L2433.9 1650.2 L2435.3 1703.5 L2436.7 1685.8 L2438.1 1681.6 L2439.5 1666.0 L2440.9 1664.8 L2442.3 1648.3 L2443.7 1661.2 L2445.1 1662.9 L2446.5 1670.0 L2447.9 1674.0 L2449.3 1643.4 L2450.7 1677.7 L2452.1 1652.1 L2453.5 1659.1 L2454.9 1701.2 L2456.3 1667.7 L2457.7 1692.9 L2459.1 1648.9 L2460.5 1664.8 L2461.9 1695.3 L2463.3 1648.5 L2464.7 1646.3 L2466.1 1703.6 L2467.5 1652.2 L2468.9 1646.4" fill="none" stroke="#000" stroke-width="8" stroke-linejoin="round" stroke-linecap="round"/>
<path d="M589.3 1431.3 L596.3 1420 L603.3 1415.8 L613.2 1415.1 L621.6 1418.6 L630.1 1427 L637.1 1441 L637.1 1449.6 L624.4 1449.6 L618.8 1446.7 L607.6 1449.6 L589.3 1449.6 Z" fill="#000" stroke="#000" stroke-width="3" stroke-linejoin="round"/>
<rect x="165" y="22" width="2311" height="1795" fill="none" stroke="#000" stroke-width="11.5"/>
<line x1="318.0" y1="1817" x2="318.0" y2="1786.0" stroke="#000" stroke-width="10.5"/>
<line x1="517.2" y1="1817" x2="517.2" y2="1801.0" stroke="#000" stroke-width="10.5"/>
<line x1="716.4" y1="1817" x2="716.4" y2="1786.0" stroke="#000" stroke-width="10.5"/>
<line x1="915.6" y1="1817" x2="915.6" y2="1801.0" stroke="#000" stroke-width="10.5"/>
<line x1="1114.8" y1="1817" x2="1114.8" y2="1786.0" stroke="#000" stroke-width="10.5"/>
<line x1="1314.0" y1="1817" x2="1314.0" y2="1801.0" stroke="#000" stroke-width="10.5"/>
<line x1="1513.2" y1="1817" x2="1513.2" y2="1786.0" stroke="#000" stroke-width="10.5"/>
<line x1="1712.4" y1="1817" x2="1712.4" y2="1801.0" stroke="#000" stroke-width="10.5"/>
<line x1="1911.6" y1="1817" x2="1911.6" y2="1786.0" stroke="#000" stroke-width="10.5"/>
<line x1="2110.8" y1="1817" x2="2110.8" y2="1801.0" stroke="#000" stroke-width="10.5"/>
<line x1="2310.0" y1="1817" x2="2310.0" y2="1786.0" stroke="#000" stroke-width="10.5"/>
<line x1="165" y1="198.8" x2="196.0" y2="198.8" stroke="#000" stroke-width="11"/>
<line x1="165" y1="386.1" x2="182.0" y2="386.1" stroke="#000" stroke-width="11"/>
<line x1="165" y1="573.4" x2="196.0" y2="573.4" stroke="#000" stroke-width="11"/>
<line x1="165" y1="760.7" x2="182.0" y2="760.7" stroke="#000" stroke-width="11"/>
<line x1="165" y1="948.0" x2="196.0" y2="948.0" stroke="#000" stroke-width="11"/>
<line x1="165" y1="1135.3" x2="182.0" y2="1135.3" stroke="#000" stroke-width="11"/>
<line x1="165" y1="1322.6" x2="196.0" y2="1322.6" stroke="#000" stroke-width="11"/>
<line x1="165" y1="1509.9" x2="182.0" y2="1509.9" stroke="#000" stroke-width="11"/>
<line x1="165" y1="1697.2" x2="196.0" y2="1697.2" stroke="#000" stroke-width="11"/>
<text x="318.0" y="1911.5" font-size="82.5" text-anchor="middle" textLength="140.4" lengthAdjust="spacingAndGlyphs">300</text>
<text x="716.4" y="1911.5" font-size="82.5" text-anchor="middle" textLength="140.4" lengthAdjust="spacingAndGlyphs">600</text>
<text x="1114.8" y="1911.5" font-size="82.5" text-anchor="middle" textLength="140.4" lengthAdjust="spacingAndGlyphs">900</text>
<text x="1513.2" y="1911.5" font-size="82.5" text-anchor="middle" textLength="187.1" lengthAdjust="spacingAndGlyphs">1200</text>
<text x="1911.6" y="1911.5" font-size="82.5" text-anchor="middle" textLength="187.1" lengthAdjust="spacingAndGlyphs">1500</text>
<text x="2310.0" y="1911.5" font-size="82.5" text-anchor="middle" textLength="187.1" lengthAdjust="spacingAndGlyphs">1800</text>
<text x="941.4" y="2030.7" font-size="88" textLength="758.6" lengthAdjust="spacingAndGlyphs">Raman shift (cm<tspan font-size="56" dy="-36">−1</tspan><tspan dy="36">)</tspan></text>
<text transform="translate(84.5,1321.5) scale(1.055,1) rotate(-90)" font-size="87" x="-6" y="0" textLength="846.5" lengthAdjust="spacingAndGlyphs">Raman intensity (a.u.)</text>
<text x="296.8" y="141.5" font-size="79" textLength="107.7" lengthAdjust="spacingAndGlyphs">(a)</text>
<text x="1853.6" y="105.5" font-size="79" font-weight="bold" textLength="482.3" lengthAdjust="spacingAndGlyphs">RBD protein</text>
<text x="1094.9" y="78.0" font-size="59.5" textLength="94.7" lengthAdjust="spacingAndGlyphs">Glu</text>
<text x="1155.4" y="204.5" font-size="59.5" textLength="619.1" lengthAdjust="spacingAndGlyphs">C-N and C-C stretching</text>
<text x="723.2" y="340.0" font-size="59.5" textLength="83.6" lengthAdjust="spacingAndGlyphs">Tyr</text>
<text x="1093.4" y="593.6" font-size="68" textLength="102.1" lengthAdjust="spacingAndGlyphs">Trp</text>
<text x="440.0" y="738.5" font-size="59.5" textLength="223.8" lengthAdjust="spacingAndGlyphs">Cys, His</text>
<text x="1496.0" y="465.2" font-size="59.5" textLength="326.9" lengthAdjust="spacingAndGlyphs">Amino acids</text>
<text x="1624.9" y="697.3" font-size="59.5" textLength="418.2" lengthAdjust="spacingAndGlyphs">C-H, (CH<tspan font-size="36.5" dy="15">2</tspan><tspan dy="-15">/CH</tspan><tspan font-size="36.5" dy="15">3</tspan><tspan dy="-15">)</tspan></text>
<text x="1716.4" y="973.0" font-size="59.5" textLength="319.0" lengthAdjust="spacingAndGlyphs">C-H rocking</text>
<text x="1290.6" y="1049.4" font-size="59.5" textLength="296.2" lengthAdjust="spacingAndGlyphs">Amino acid</text>
<text x="1811.7" y="1113.9" font-size="59.5" textLength="468.2" lengthAdjust="spacingAndGlyphs">C-H, (CH<tspan font-size="36.5" dy="15">2</tspan><tspan dy="-15">/CH</tspan><tspan font-size="36.5" dy="15">3</tspan><tspan dy="-15">) s</tspan></text>
<line x1="614.2" y1="753.0" x2="612.5" y2="1246.0" stroke="#555" stroke-width="2.6"/>
<path d="M601.2 1230.0 L623.8 1230.0 L612.5 1270.0 Z" fill="#000"/>
<line x1="768.8" y1="432.0" x2="768.8" y2="1377.0" stroke="#555" stroke-width="2.6"/>
<path d="M757.5 1361.0 L780.1 1361.0 L768.8 1401.0 Z" fill="#000"/>
<line x1="1090.0" y1="92.0" x2="1090.0" y2="175.0" stroke="#555" stroke-width="2.6"/>
<path d="M1078.7 159.0 L1101.3 159.0 L1090.0 199.0 Z" fill="#000"/>
<line x1="1108.5" y1="447.6" x2="1107.0" y2="744.5" stroke="#555" stroke-width="2.6"/>
<path d="M1095.7 728.5 L1118.3 728.5 L1107.0 768.5 Z" fill="#000"/>
<line x1="1321.2" y1="216.0" x2="1320.7" y2="1119.8" stroke="#555" stroke-width="2.6"/>
<path d="M1309.4 1103.8 L1332.0 1103.8 L1320.7 1143.8 Z" fill="#000"/>
<line x1="1403.4" y1="1085.7" x2="1403.2" y2="1221.0" stroke="#555" stroke-width="2.6"/>
<path d="M1391.9 1205.0 L1414.5 1205.0 L1403.2 1245.0 Z" fill="#000"/>
<line x1="1444.2" y1="1051.0" x2="1442.0" y2="1305.0" stroke="#555" stroke-width="2.6"/>
<path d="M1430.7 1289.0 L1453.3 1289.0 L1442.0 1329.0 Z" fill="#000"/>
<line x1="1580.6" y1="552.0" x2="1580.5" y2="1386.0" stroke="#555" stroke-width="2.6"/>
<path d="M1569.2 1370.0 L1591.8 1370.0 L1580.5 1410.0 Z" fill="#000"/>
<line x1="1677.7" y1="734.3" x2="1679.6" y2="1472.0" stroke="#555" stroke-width="2.6"/>
<path d="M1668.3 1456.0 L1690.9 1456.0 L1679.6 1496.0 Z" fill="#000"/>
<line x1="1752.6" y1="1019.0" x2="1752.0" y2="1386.0" stroke="#555" stroke-width="2.6"/>
<path d="M1740.7 1370.0 L1763.3 1370.0 L1752.0 1410.0 Z" fill="#000"/>
<line x1="1863.9" y1="1152.2" x2="1864.9" y2="1330.4" stroke="#555" stroke-width="2.6"/>
<path d="M1853.6 1314.4 L1876.2 1314.4 L1864.9 1354.4 Z" fill="#000"/>
</g>
<g filter="url(#sb)"><rect x="0" y="2090" width="2496" height="2091" fill="#fff"/>
<rect x="180" y="2121" width="2281" height="1767.5" fill="none" stroke="#000" stroke-width="11.5"/>
<line x1="237.2" y1="3888.5" x2="237.2" y2="3859.0" stroke="#000" stroke-width="10.5"/>
<line x1="452.0" y1="3888.5" x2="452.0" y2="3874.0" stroke="#000" stroke-width="10.5"/>
<line x1="666.7" y1="3888.5" x2="666.7" y2="3859.0" stroke="#000" stroke-width="10.5"/>
<line x1="881.5" y1="3888.5" x2="881.5" y2="3874.0" stroke="#000" stroke-width="10.5"/>
<line x1="1096.2" y1="3888.5" x2="1096.2" y2="3859.0" stroke="#000" stroke-width="10.5"/>
<line x1="1311.0" y1="3888.5" x2="1311.0" y2="3874.0" stroke="#000" stroke-width="10.5"/>
<line x1="1525.7" y1="3888.5" x2="1525.7" y2="3859.0" stroke="#000" stroke-width="10.5"/>
<line x1="1740.5" y1="3888.5" x2="1740.5" y2="3874.0" stroke="#000" stroke-width="10.5"/>
<line x1="1955.2" y1="3888.5" x2="1955.2" y2="3859.0" stroke="#000" stroke-width="10.5"/>
<line x1="2170.0" y1="3888.5" x2="2170.0" y2="3874.0" stroke="#000" stroke-width="10.5"/>
<line x1="2384.8" y1="3888.5" x2="2384.8" y2="3859.0" stroke="#000" stroke-width="10.5"/>
<line x1="180" y1="3740.0" x2="211.0" y2="3740.0" stroke="#000" stroke-width="11"/>
<line x1="180" y1="3559.5" x2="197.0" y2="3559.5" stroke="#000" stroke-width="11"/>
<line x1="180" y1="3379.0" x2="211.0" y2="3379.0" stroke="#000" stroke-width="11"/>
<line x1="180" y1="3198.5" x2="197.0" y2="3198.5" stroke="#000" stroke-width="11"/>
<line x1="180" y1="3018.0" x2="211.0" y2="3018.0" stroke="#000" stroke-width="11"/>
<line x1="180" y1="2837.5" x2="197.0" y2="2837.5" stroke="#000" stroke-width="11"/>
<line x1="180" y1="2657.0" x2="211.0" y2="2657.0" stroke="#000" stroke-width="11"/>
<line x1="180" y1="2476.5" x2="197.0" y2="2476.5" stroke="#000" stroke-width="11"/>
<line x1="180" y1="2296.0" x2="211.0" y2="2296.0" stroke="#000" stroke-width="11"/>
<path d="M182.7 3540.8 L185.1 3566.1 L193.5 3569.5 L198.5 3559.4 L200.9 3542.5 L205.3 3540.8 L207.6 3554.3 L208.6 3584.6 L213.7 3577.9 L217.7 3601.5 L221.1 3653.7 L225.5 3618.3 L230.5 3604.9 L233.2 3645.3 L237.3 3615.0 L242.3 3609.9 L247.4 3631.8 L252.4 3645.3 L257.5 3655.4 L260.9 3679.0 L265.9 3722.8 L269.3 3702.6 L271.6 3685.7 L276.0 3682.3 L279.4 3692.5 L282.8 3655.4 L287.8 3601.5 L292.9 3621.7 L298.6 3598.1 L302.0 3621.7 L306.3 3668.9 L309.7 3628.4 L314.8 3596.4 L318.8 3621.7 L323.2 3655.4 L328.2 3685.7 L331.6 3648.7 L335.7 3615.0 L339.0 3635.2 L341.7 3689.1 L345.8 3702.6 L350.1 3675.6 L352.5 3657.1 L355.9 3668.9 L360.3 3689.1 L365.3 3668.9 L368.7 3628.4 L373.7 3554.3 L378.8 3446.5 L383.8 3385.8 L388.2 3352.2 L392.3 3340.4 L395.6 3379.1 L398.3 3406.1 L402.4 3411.1 L407.4 3369.0 L410.8 3406.1 L415.8 3449.9 L419.9 3402.7 L423.3 3331.9 L427.6 3333.6 L431.0 3321.8 L432.7 3338.7 L436.1 3308.4 L438.8 3299.9 L442.1 3315.1 L446.2 3392.6 L451.2 3486.9 L456.3 3604.9 L460.3 3685.7 L463.7 3675.6 L467.1 3679.0 L471.4 3689.1 L475.8 3655.4 L479.9 3571.2 L483.2 3453.2 L485.9 3318.5 L488.3 3237.6 L490.6 3225.8 L493.3 3244.3 L496.7 3318.5 L500.1 3365.6 L504.1 3377.4 L508.5 3331.9 L512.5 3316.8 L516.9 3345.4 L520.3 3365.6 L524.3 3406.1 L527.0 3411.1 L530.4 3352.2 L533.1 3335.3 L536.5 3365.6 L538.8 3453.2 L542.2 3486.9 L545.6 3476.8 L548.9 3446.5 L552.3 3352.2 L555.7 3284.8 L560.7 3237.6 L564.8 3226.8 L568.1 3257.8 L572.5 3294.9 L576.9 3251.1 L579.9 3229.2 L584.3 3261.2 L587.7 3318.5 L592.7 3406.1 L597.8 3486.9 L602.8 3554.3 L607.9 3594.7 L613.0 3645.3 L617.3 3673.9 L619.7 3655.4 L624.7 3652.0 L629.8 3668.9 L634.9 3660.4 L638.9 3702.6 L643.3 3736.3 L648.3 3754.8 L651.7 3722.8 L655.7 3668.9 L660.0 3648.7 L664.0 3645.3 L666.7 3655.4 L669.4 3702.6 L673.5 3719.4 L676.8 3729.5 L680.2 3705.9 L683.6 3685.7 L687.6 3709.3 L692.7 3732.9 L695.4 3702.6 L700.4 3679.0 L703.8 3695.8 L708.9 3685.7 L711.2 3655.4 L713.9 3621.7 L718.0 3608.2 L722.3 3581.3 L725.7 3584.6 L729.1 3557.7 L731.4 3584.6 L734.8 3625.1 L739.2 3604.9 L744.2 3621.7 L748.3 3665.5 L752.7 3685.7 L756.0 3668.9 L759.4 3652.0 L762.8 3648.7 L766.1 3621.7 L768.5 3598.1 L772.9 3618.3 L776.2 3598.1 L781.3 3598.1 L786.3 3579.6 L789.7 3598.1 L793.1 3648.7 L795.4 3668.9 L798.8 3648.7 L802.2 3618.3 L805.6 3635.2 L809.9 3655.4 L813.3 3631.8 L818.4 3621.7 L821.7 3641.9 L825.1 3658.8 L828.5 3638.5 L832.5 3598.1 L835.9 3628.4 L839.2 3638.5 L843.6 3628.4 L846.3 3655.4 L849.4 3685.7 L853.7 3662.1 L858.8 3658.8 L862.2 3631.8 L864.5 3599.8 L867.2 3635.2 L871.3 3692.5 L874.6 3648.7 L878.3 3611.6 L882.4 3621.7 L886.4 3615.0 L890.8 3631.8 L895.8 3618.3 L899.9 3608.2 L903.3 3641.9 L907.6 3640.2 L912.7 3621.7 L916.7 3635.2 L921.1 3628.4 L924.5 3641.9 L928.5 3658.8 L932.2 3648.7 L934.6 3615.0 L938.0 3584.6 L942.3 3567.8 L947.1 3564.4 L949.8 3544.2 L952.5 3530.7 L956.5 3534.1 L959.2 3561.1 L964.9 3559.4 L969.3 3534.1 L973.3 3503.8 L975.7 3419.5 L977.4 3338.7 L979.4 3305.0 L981.8 3325.2 L984.1 3385.8 L986.1 3453.2 L989.5 3476.8 L993.6 3486.9 L997.6 3473.5 L1001.0 3419.5 L1005.4 3318.5 L1010.4 3217.4 L1015.5 3166.8 L1018.8 3150.0 L1024.5 3089.5 L1029.5 3133.0 L1036.0 3140.0 L1040.0 3185.0 L1043.4 3222.0 L1047.6 3175.0 L1051.3 2934.0 L1054.8 2765.0 L1057.8 2630.0 L1059.8 2549.0 L1061.8 2521.0 L1063.7 2597.0 L1065.7 2799.0 L1068.4 3036.0 L1070.0 3137.0 L1072.2 2968.0 L1074.2 2698.0 L1076.0 2495.0 L1078.3 2388.0 L1080.0 2495.0 L1081.7 2698.0 L1083.6 2968.0 L1084.8 3200.0 L1085.5 3300.0 L1087.5 3400.0 L1089.5 3487.0 L1092.0 3510.0 L1095.0 3517.0 L1097.3 3524.0 L1100.7 3507.0 L1104.7 3453.0 L1109.8 3392.6 L1114.8 3359.0 L1119.9 3346.0 L1123.3 3359.0 L1128.3 3396.0 L1133.4 3432.0 L1138.4 3458.0 L1143.4 3484.6 L1146.1 3528.4 L1151.8 3521.7 L1155.2 3575.6 L1160.9 3572.2 L1164.3 3589.1 L1168.6 3616.0 L1170.3 3643.0 L1173.0 3651.4 L1176.4 3636.3 L1180.4 3643.0 L1183.8 3619.4 L1188.9 3573.9 L1193.2 3595.8 L1197.3 3619.4 L1202.3 3599.2 L1205.7 3629.5 L1209.1 3646.4 L1212.4 3636.3 L1214.8 3656.5 L1218.2 3629.5 L1221.5 3605.9 L1224.2 3639.6 L1228.3 3668.3 L1231.6 3643.0 L1236.0 3639.6 L1239.4 3648.0 L1243.8 3636.3 L1247.8 3619.4 L1251.2 3595.8 L1255.2 3585.7 L1258.6 3605.9 L1263.0 3619.4 L1265.3 3575.6 L1268.0 3504.9 L1270.7 3472.8 L1274.1 3498.1 L1277.5 3520.0 L1281.5 3498.1 L1284.9 3464.4 L1287.6 3447.6 L1290.9 3454.3 L1293.3 3481.3 L1295.7 3430.7 L1298.4 3370.1 L1303.4 3319.5 L1306.8 3252.2 L1310.1 3184.8 L1312.5 3134.2 L1315.2 3114.0 L1317.9 3137.6 L1320.3 3184.8 L1323.6 3238.7 L1327.0 3302.7 L1330.4 3358.3 L1333.7 3343.1 L1337.1 3328.0 L1340.5 3360.0 L1344.5 3400.4 L1348.2 3363.3 L1352.3 3329.6 L1355.6 3309.4 L1359.0 3292.6 L1362.4 3319.5 L1366.4 3363.3 L1370.8 3346.5 L1374.8 3356.6 L1379.2 3343.1 L1383.3 3370.1 L1386.0 3390.3 L1388.7 3353.2 L1391.0 3306.1 L1394.4 3309.4 L1397.1 3292.6 L1400.1 3319.5 L1404.5 3386.9 L1408.5 3343.1 L1412.2 3334.7 L1416.3 3353.2 L1419.6 3386.9 L1423.0 3427.4 L1426.4 3454.3 L1428.7 3467.8 L1432.1 3437.5 L1435.8 3424.0 L1439.9 3450.9 L1443.2 3420.6 L1445.9 3380.2 L1449.3 3360.0 L1452.7 3380.2 L1455.0 3420.6 L1458.4 3488.0 L1461.8 3555.4 L1465.1 3622.8 L1468.5 3663.2 L1471.9 3653.1 L1475.2 3673.3 L1477.9 3688.5 L1481.0 3666.6 L1483.7 3651.4 L1487.0 3669.9 L1492.1 3680.1 L1497.1 3696.9 L1500.5 3676.7 L1503.9 3653.1 L1507.9 3656.5 L1510.6 3669.9 L1514.0 3622.8 L1517.4 3589.1 L1522.4 3580.7 L1526.8 3595.8 L1529.2 3555.4 L1532.5 3504.9 L1534.9 3521.7 L1538.2 3515.0 L1542.6 3555.4 L1546.0 3592.5 L1549.4 3568.9 L1552.7 3538.5 L1557.8 3518.3 L1561.2 3531.8 L1565.2 3555.4 L1567.9 3521.7 L1571.3 3454.3 L1574.6 3427.4 L1577.3 3450.9 L1581.4 3427.4 L1584.7 3386.9 L1588.1 3336.4 L1591.5 3306.1 L1594.2 3329.6 L1597.5 3285.8 L1599.9 3248.8 L1603.3 3258.9 L1606.6 3265.6 L1610.0 3272.4 L1613.4 3336.4 L1616.8 3353.2 L1620.1 3363.3 L1623.4 3370.1 L1626.7 3403.8 L1629.4 3454.3 L1631.8 3471.2 L1635.2 3454.3 L1638.5 3440.8 L1641.9 3442.5 L1644.3 3464.4 L1647.0 3454.3 L1651.0 3454.3 L1653.7 3484.6 L1656.4 3508.2 L1658.7 3523.4 L1662.1 3501.5 L1665.5 3488.0 L1668.9 3486.3 L1671.2 3511.6 L1675.6 3521.7 L1679.0 3535.2 L1682.3 3541.9 L1687.4 3548.7 L1690.8 3516.6 L1694.8 3516.6 L1699.2 3504.9 L1701.5 3477.9 L1704.9 3461.1 L1708.3 3484.6 L1711.6 3521.7 L1717.0 3545.3 L1719.4 3521.7 L1722.8 3488.0 L1726.1 3472.8 L1729.5 3504.9 L1732.9 3555.4 L1736.2 3552.0 L1739.6 3558.8 L1743.0 3535.2 L1746.3 3504.9 L1749.7 3488.0 L1752.1 3483.0 L1755.4 3515.0 L1758.8 3521.7 L1761.5 3498.1 L1764.9 3528.4 L1768.9 3572.2 L1772.3 3538.5 L1775.0 3488.0 L1777.3 3454.3 L1779.4 3449.3 L1782.4 3464.4 L1785.1 3508.2 L1788.5 3501.5 L1791.2 3538.5 L1794.5 3589.1 L1798.6 3575.6 L1801.9 3589.1 L1805.3 3605.9 L1808.7 3639.6 L1812.0 3653.1 L1815.4 3629.5 L1818.8 3616.0 L1821.1 3643.0 L1824.9 3683.4 L1828.9 3669.9 L1832.3 3680.1 L1835.6 3659.8 L1839.0 3649.7 L1842.4 3676.7 L1846.4 3696.9 L1849.8 3666.6 L1853.2 3643.0 L1857.5 3632.9 L1860.9 3656.5 L1865.3 3686.8 L1867.6 3656.5 L1871.0 3616.0 L1874.4 3595.8 L1877.7 3592.5 L1881.1 3568.9 L1884.5 3552.0 L1886.8 3579.0 L1889.5 3575.6 L1892.2 3548.7 L1895.6 3521.7 L1899.0 3501.5 L1901.3 3498.1 L1903.7 3521.7 L1906.4 3555.4 L1908.7 3521.7 L1911.4 3501.5 L1913.8 3521.7 L1916.5 3548.7 L1919.9 3558.8 L1923.2 3568.9 L1925.9 3605.9 L1928.3 3636.3 L1931.7 3653.1 L1935.0 3663.2 L1938.4 3649.7 L1941.8 3673.3 L1944.5 3666.6 L1948.5 3649.7 L1952.9 3649.7 L1955.2 3673.3 L1958.6 3707.0 L1961.0 3720.5 L1963.7 3690.2 L1967.7 3656.5 L1971.1 3683.4 L1974.4 3707.0 L1977.8 3680.1 L1982.2 3666.6 L1986.6 3676.7 L1990.6 3703.6 L1994.0 3702.0 L1998.0 3690.2 L2002.4 3673.3 L2006.8 3669.9 L2010.8 3683.4 L2014.9 3673.3 L2019.3 3671.6 L2023.3 3690.2 L2027.7 3676.7 L2031.1 3666.6 L2035.1 3673.3 L2039.5 3643.0 L2042.8 3653.1 L2046.2 3666.6 L2050.6 3691.8 L2054.6 3690.2 L2058.0 3663.2 L2061.4 3639.6 L2065.4 3663.2 L2068.8 3649.7 L2073.2 3666.6 L2077.5 3669.9 L2081.6 3659.8 L2085.0 3656.5 L2089.0 3683.4 L2092.4 3680.1 L2095.1 3649.7 L2097.4 3619.4 L2100.1 3656.5 L2103.5 3718.8 L2106.9 3690.2 L2110.2 3656.5 L2113.6 3653.1 L2117.0 3666.6 L2120.0 3680.1 L2124.5 3673.7 L2128.5 3668.3 L2132.6 3660.2 L2135.3 3657.5 L2139.3 3681.8 L2142.5 3654.9 L2146.0 3646.8 L2149.5 3665.6 L2152.8 3676.4 L2156.0 3662.9 L2159.5 3681.8 L2163.0 3660.2 L2166.8 3644.1 L2170.3 3657.5 L2173.8 3676.4 L2177.6 3654.9 L2181.1 3617.1 L2183.8 3611.7 L2186.5 3633.3 L2189.2 3681.8 L2191.1 3695.3 L2194.6 3679.1 L2198.1 3654.9 L2201.3 3636.0 L2204.5 3649.5 L2208.8 3654.9 L2212.1 3665.6 L2215.3 3673.7 L2218.8 3657.5 L2222.9 3646.8 L2226.9 3638.7 L2229.6 3629.2 L2232.3 3654.9 L2235.0 3679.1 L2239.0 3671.0 L2243.1 3679.1 L2245.8 3644.1 L2249.3 3627.9 L2252.5 3638.7 L2256.5 3654.9 L2260.1 3630.6 L2263.3 3638.7 L2267.3 3654.9 L2270.0 3668.3 L2273.5 3636.0 L2276.8 3649.5 L2280.8 3673.7 L2284.3 3654.9 L2287.0 3636.0 L2290.2 3665.6 L2292.9 3669.7 L2296.2 3649.5 L2299.7 3665.6 L2302.4 3630.6 L2305.9 3644.1 L2309.1 3638.7 L2312.3 3627.9 L2315.8 3649.5 L2319.4 3681.8 L2322.6 3703.4 L2325.3 3665.6 L2328.0 3633.3 L2330.7 3654.9 L2333.9 3692.6 L2336.6 3707.4 L2340.1 3692.6 L2343.6 3668.3 L2346.3 3660.2 L2349.5 3681.8 L2352.8 3689.9 L2357.6 3665.6 L2361.7 3687.2 L2365.2 3704.7 L2368.4 3681.8 L2371.6 3654.9 L2375.1 3633.3 L2378.7 3633.3 L2381.9 3660.2 L2384.6 3692.6 L2388.6 3684.5 L2391.3 3673.7 L2394.0 3692.6 L2397.5 3700.7 L2400.8 3681.8 L2404.8 3671.0 L2410.2 3657.5 L2414.2 3673.7 L2418.3 3679.1 L2421.8 3668.3 L2425.0 3698.0 L2427.2 3708.8 L2429.9 3676.4 L2432.6 3652.2 L2435.8 3681.8 L2439.0 3703.4 L2442.5 3671.0 L2446.6 3638.7 L2450.6 3618.5 L2454.1 3633.3 L2457.4 3660.2 L2458.7 3671.0" fill="none" stroke="#ff0000" stroke-width="9.5" stroke-linejoin="round" stroke-linecap="round"/>
<text x="237.2" y="3990.5" font-size="90" text-anchor="middle" textLength="151.6" lengthAdjust="spacingAndGlyphs">300</text>
<text x="666.7" y="3990.5" font-size="90" text-anchor="middle" textLength="151.6" lengthAdjust="spacingAndGlyphs">600</text>
<text x="1096.2" y="3990.5" font-size="90" text-anchor="middle" textLength="151.6" lengthAdjust="spacingAndGlyphs">900</text>
<text x="1525.7" y="3990.5" font-size="90" text-anchor="middle" textLength="202.2" lengthAdjust="spacingAndGlyphs">1200</text>
<text x="1955.2" y="3990.5" font-size="90" text-anchor="middle" textLength="202.2" lengthAdjust="spacingAndGlyphs">1500</text>
<text x="2384.8" y="3990.5" font-size="90" text-anchor="middle" textLength="202.2" lengthAdjust="spacingAndGlyphs">1800</text>
<text x="941.8" y="4146.0" font-size="88" textLength="758.1" lengthAdjust="spacingAndGlyphs">Raman shift (cm<tspan font-size="56" dy="-36">−1</tspan><tspan dy="36">)</tspan></text>
<text transform="translate(84.5,3375.2) scale(1.055,1) rotate(-90)" font-size="87" x="-6" y="0" textLength="846.5" lengthAdjust="spacingAndGlyphs">Raman intensity (a.u.)</text>
<text x="297.0" y="2276.3" font-size="86" textLength="113.6" lengthAdjust="spacingAndGlyphs">(b)</text>
<text x="1961.9" y="2233.4" font-size="79" font-weight="bold" textLength="358.7" lengthAdjust="spacingAndGlyphs">S protein</text>
<text x="1066.0" y="2181.5" font-size="59.5" textLength="88.0" lengthAdjust="spacingAndGlyphs">Trp</text>
<text x="961.4" y="2283.8" font-size="59.5" textLength="83.2" lengthAdjust="spacingAndGlyphs">Tyr</text>
<text x="1233.0" y="2333.5" font-size="59.5" textLength="625.3" lengthAdjust="spacingAndGlyphs">C-N and C-C stretching</text>
<text x="1196.2" y="2694.5" font-size="59.5" textLength="106.7" lengthAdjust="spacingAndGlyphs">Phe</text>
<text x="315.8" y="2968.8" font-size="59.5" textLength="224.8" lengthAdjust="spacingAndGlyphs">Cys, His</text>
<text x="687.6" y="2952.4" font-size="59.5" textLength="85.5" lengthAdjust="spacingAndGlyphs">Tyr</text>
<text x="926.0" y="3037.7" font-size="59.5" textLength="297.0" lengthAdjust="spacingAndGlyphs">Amino acid</text>
<text x="1492.6" y="2740.8" font-size="59.5" textLength="297.4" lengthAdjust="spacingAndGlyphs">Amino acid</text>
<text x="1573.6" y="3059.9" font-size="59.5" textLength="319.3" lengthAdjust="spacingAndGlyphs">C-H rocking</text>
<text x="1799.9" y="3257.1" font-size="59.5" textLength="469.6" lengthAdjust="spacingAndGlyphs">C-H, (CH<tspan font-size="40.5" dy="22">2</tspan><tspan dy="-22">/CH</tspan><tspan font-size="40.5" dy="17">3</tspan><tspan dy="-17">) s</tspan></text>
<line x1="488.7" y1="2976.0" x2="487.3" y2="3178.0" stroke="#555" stroke-width="2.6"/>
<path d="M476.0 3162.0 L498.6 3162.0 L487.3 3202.0 Z" fill="#000"/>
<line x1="555.4" y1="3011.7" x2="555.7" y2="3197.0" stroke="#555" stroke-width="2.6"/>
<path d="M544.4 3181.0 L567.0 3181.0 L555.7 3221.0 Z" fill="#000"/>
<line x1="717.8" y1="3000.0" x2="719.0" y2="3515.0" stroke="#555" stroke-width="2.6"/>
<path d="M707.7 3499.0 L730.3 3499.0 L719.0 3539.0 Z" fill="#000"/>
<line x1="1048.7" y1="2320.0" x2="1049.8" y2="2464.0" stroke="#555" stroke-width="2.6"/>
<path d="M1038.5 2448.0 L1061.1 2448.0 L1049.8 2488.0 Z" fill="#000"/>
<line x1="1079.8" y1="2212.7" x2="1081.0" y2="2358.0" stroke="#555" stroke-width="2.6"/>
<path d="M1069.7 2342.0 L1092.3 2342.0 L1081.0 2382.0 Z" fill="#000"/>
<line x1="1122.5" y1="3062.0" x2="1122.3" y2="3319.0" stroke="#555" stroke-width="2.6"/>
<path d="M1111.0 3303.0 L1133.6 3303.0 L1122.3 3343.0 Z" fill="#000"/>
<line x1="1250.7" y1="2757.5" x2="1248.5" y2="3550.0" stroke="#555" stroke-width="2.6"/>
<path d="M1237.2 3534.0 L1259.8 3534.0 L1248.5 3574.0 Z" fill="#000"/>
<line x1="1273.0" y1="2748.0" x2="1271.4" y2="3423.6" stroke="#555" stroke-width="2.6"/>
<path d="M1260.1 3407.6 L1282.7 3407.6 L1271.4 3447.6 Z" fill="#000"/>
<line x1="1314.8" y1="2344.6" x2="1314.6" y2="3071.0" stroke="#555" stroke-width="2.6"/>
<path d="M1303.3 3055.0 L1325.9 3055.0 L1314.6 3095.0 Z" fill="#000"/>
<line x1="1603.8" y1="2766.7" x2="1599.7" y2="3217.5" stroke="#555" stroke-width="2.6"/>
<path d="M1588.4 3201.5 L1611.0 3201.5 L1599.7 3241.5 Z" fill="#000"/>
<line x1="1780.4" y1="3080.0" x2="1781.0" y2="3398.0" stroke="#555" stroke-width="2.6"/>
<path d="M1769.7 3382.0 L1792.3 3382.0 L1781.0 3422.0 Z" fill="#000"/>
<line x1="1904.2" y1="3267.0" x2="1904.7" y2="3457.0" stroke="#555" stroke-width="2.6"/>
<path d="M1893.4 3441.0 L1916.0 3441.0 L1904.7 3481.0 Z" fill="#000"/>
</g>
</svg>
</body></html>
